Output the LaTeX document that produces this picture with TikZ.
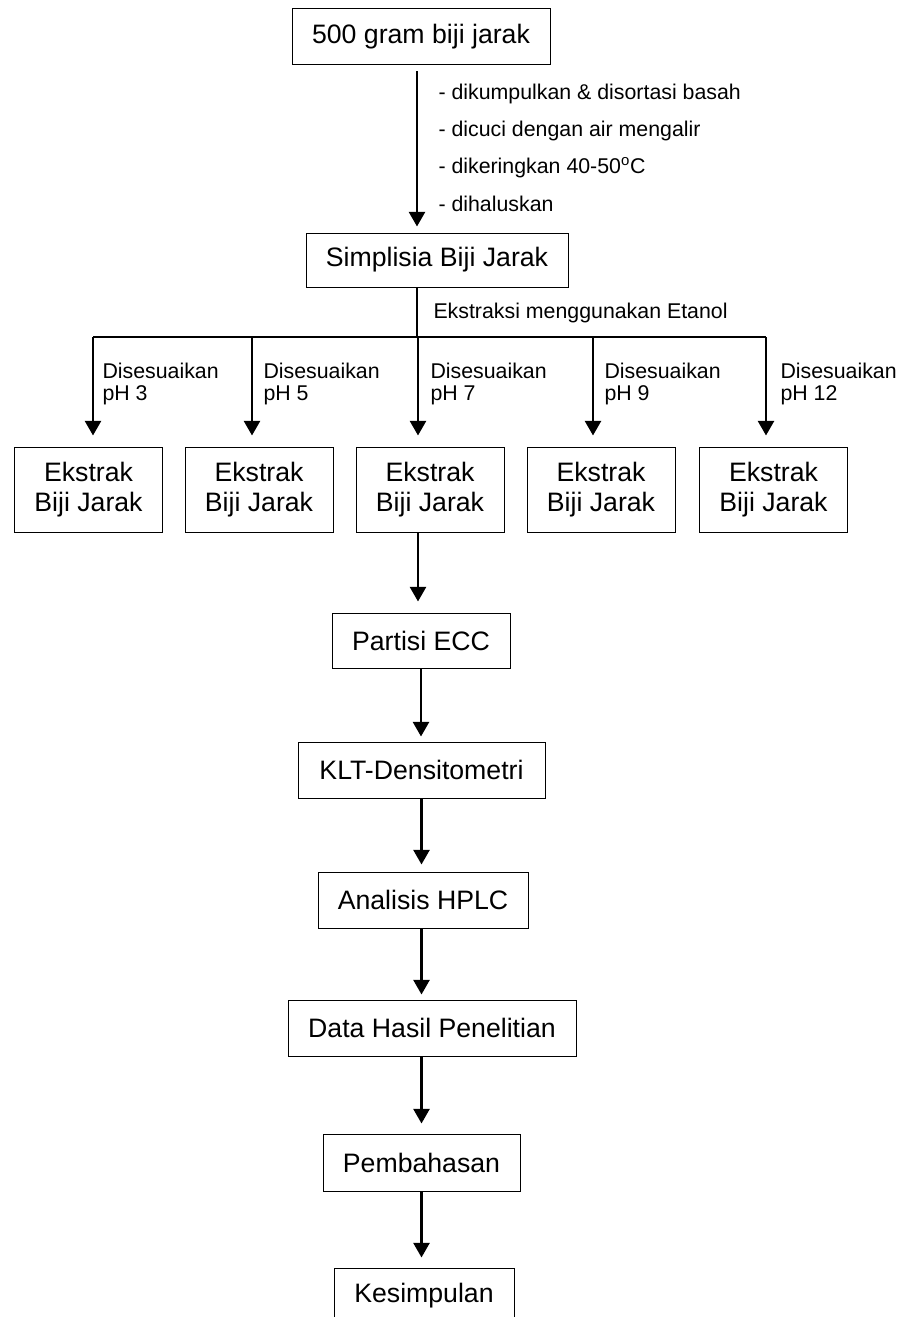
\documentclass[tikz,border=0pt]{standalone}
\usepackage{fontspec}
\setmainfont{Liberation Sans}
\usetikzlibrary{arrows.meta}

\tikzset{every picture/.style={line width=0.75pt}}
\tikzset{
  box/.style={draw, line width=0.75pt, inner sep=0pt, align=center, minimum height=42pt,
    font=\fontsize{20pt}{23pt}\selectfont},
  lbl/.style={anchor=west, align=left, inner sep=0pt, font=\fontsize{16pt}{16.5pt}\selectfont},
  arr/.style={line width=2pt, -{Triangle[length=11pt,width=12pt]}},
  trunk/.style={line width=2pt}
}

\begin{document}
\begin{tikzpicture}[x=0.75pt,y=0.75pt,yscale=-1,xscale=1]
\useasboundingbox (0,0) rectangle (905,1317);
\clip (0,0) rectangle (905,1317);

%Shape: Rectangle [start]
\node (start) at (421,36.5) [box, minimum width=193.5pt] {500 gram biji jarak};
%Shape: Rectangle [simplisia]
\node (simp) at (437,260) [box, minimum width=196.5pt, minimum height=40.5pt] {Simplisia Biji Jarak};

%Branch points
\coordinate (split) at (417,337);
\coordinate (b1) at (93,337);
\coordinate (b2) at (252,337);
\coordinate (b3) at (418,337);
\coordinate (b4) at (593,337);
\coordinate (b5) at (766,337);

%Shape: Rectangle [extracts]
\node (e1) at (88.5,489.5) [box, minimum width=111pt, minimum height=63.75pt] {Ekstrak\\Biji Jarak};
\node (e2) at (259,489.5) [box, minimum width=111pt, minimum height=63.75pt] {Ekstrak\\Biji Jarak};
\node (e3) at (430,489.5) [box, minimum width=111pt, minimum height=63.75pt] {Ekstrak\\Biji Jarak};
\node (e4) at (601,489.5) [box, minimum width=111pt, minimum height=63.75pt] {Ekstrak\\Biji Jarak};
\node (e5) at (773.5,489.5) [box, minimum width=111pt, minimum height=63.75pt] {Ekstrak\\Biji Jarak};

%Shape: Rectangle [steps]
\node (part) at (421,640.5) [box, minimum width=133.5pt, minimum height=41.25pt] {Partisi ECC};
\node (klt) at (421.5,770) [box, minimum width=185.25pt] {KLT-Densitometri};
\node (hplc) at (423,900) [box, minimum width=157.5pt] {Analisis HPLC};
\node (data) at (432,1028) [box, minimum width=216pt] {Data Hasil Penelitian};
\node (pemb) at (421.5,1162.5) [box, minimum width=147.75pt, minimum height=42.75pt] {Pembahasan};
\node (kes) at (424,1296) [box, minimum width=135pt] {Kesimpulan};

%Straight Lines
\draw [arr, shorten <=4.5pt, shorten >=4.5pt] (start.south -| split) -- (simp.north -| split);
\draw [trunk] (simp.south -| split) -- (split);
\draw [trunk] (b1) -- (b5);
\draw [arr, shorten >=8.25pt] (b1) -- (e1.north -| b1);
\draw [arr, shorten >=8.25pt] (b2) -- (e2.north -| b2);
\draw [arr, shorten >=8.25pt] (b3) -- (e3.north -| b3);
\draw [arr, shorten >=8.25pt] (b4) -- (e4.north -| b4);
\draw [arr, shorten >=8.25pt] (b5) -- (e5.north -| b5);

\draw [arr, shorten >=8.25pt] (e3.south -| b3) -- (part.north -| b3);
\draw [arr, shorten >=3.75pt] (part.south) -- (klt.north -| part);
\draw [arr, shorten >=5.25pt] (klt.south) -- (hplc.north -| klt);
\draw [arr, shorten >=3.75pt] (hplc.south -| klt) -- (data.north -| klt);
\draw [arr, shorten >=7.5pt] (data.south -| pemb) -- (pemb.north);
\draw [arr, shorten >=7.5pt] (pemb.south) -- (kes.north -| pemb);

% Text Node
\node (s1) at (438,94) [lbl] {- dikumpulkan \& disortasi basah};
% Text Node
\node (s2) at (438,131) [lbl] {- dicuci dengan air mengalir};
% Text Node
\node (s3) at (438,168) [lbl] {- dikeringkan 40-50\textsuperscript{o}C};
% Text Node
\node (s4) at (438,204) [lbl] {- dihaluskan};
% Text Node
\node (etanol) at (433,313) [lbl] {Ekstraksi menggunakan Etanol};
% Text Node
\node (ph3) at (102,384) [lbl] {Disesuaikan\\pH 3};
% Text Node
\node (ph5) at (263,384) [lbl] {Disesuaikan\\pH 5};
% Text Node
\node (ph7) at (430,384) [lbl] {Disesuaikan\\pH 7};
% Text Node
\node (ph9) at (604,384) [lbl] {Disesuaikan\\pH 9};
% Text Node
\node (ph12) at (780,384) [lbl] {Disesuaikan\\pH 12};

\end{tikzpicture}
\end{document}
